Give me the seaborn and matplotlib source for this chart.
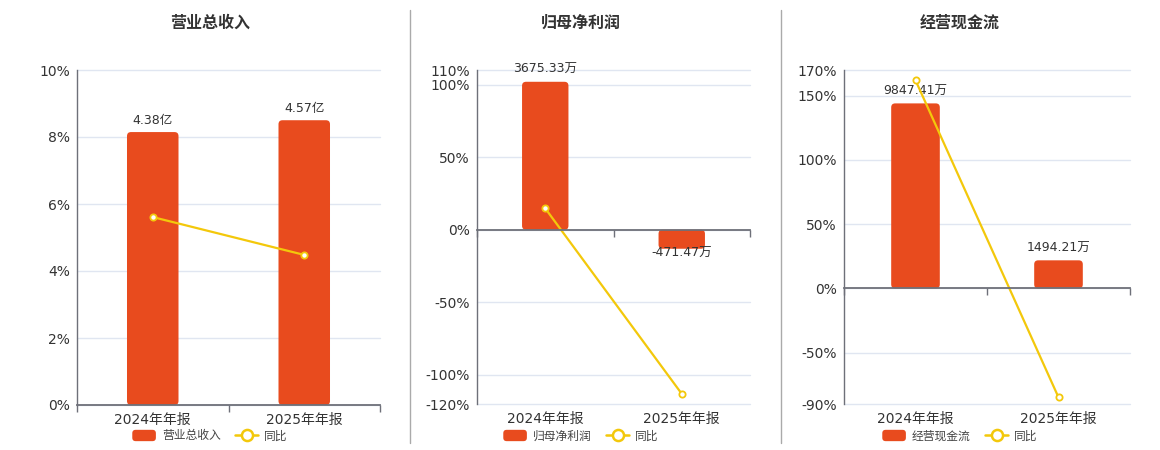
import numpy as np
import pandas as pd
import matplotlib
matplotlib.use("Agg")
import matplotlib.pyplot as plt
import seaborn as sns
from matplotlib.patches import FancyBboxPatch, Patch
from matplotlib.lines import Line2D
from matplotlib.legend_handler import HandlerPatch
from matplotlib.ticker import FixedLocator, NullFormatter

# ---------------- data ----------------
periods = ["2024年年报", "2025年年报"]
titles = ["营业总收入", "归母净利润", "经营现金流"]

revenue = [4.38, 4.57]            # 亿
revenue_yoy = [5.61, 4.48]        # %
revenue_labels = ["4.38亿", "4.57亿"]

net_profit = [3675.33, -471.47]   # 万
net_profit_yoy = [14.7, -113.0]
net_profit_labels = ["3675.33万", "-471.47万"]

cash_flow = [9847.41, 1494.21]    # 万
cash_flow_yoy = [162.0, -84.8]
cash_flow_labels = ["9847.41万", "1494.21万"]

revenue_ticks = [0, 2, 4, 6, 8, 10]
net_profit_ticks = [-120, -100, -50, 0, 50, 100, 110]
cash_flow_ticks = [-90, -50, 0, 50, 100, 150, 170]

# ---------------- style ----------------
sns.set_style("white")
plt.rcParams["font.family"] = ["DejaVu Sans", "Noto Sans CJK SC"]
plt.rcParams["axes.unicode_minus"] = False

BAR = "#E84B1E"
LINE = "#F3C80B"
GRID = "#E0E6F1"
AXIS = "#6E7079"
TXT = "#333333"

W, H = 1160, 450
fig = plt.figure(figsize=(W / 100, H / 100), dpi=100)


class HandlerRound(HandlerPatch):
    def create_artists(self, legend, orig_handle, xdescent, ydescent, width, height,
                       fontsize, trans):
        p = FancyBboxPatch((-xdescent, -ydescent), width, height,
                           boxstyle=f"round,pad=0,rounding_size={height * 0.3}",
                           facecolor=orig_handle.get_facecolor(), edgecolor="none",
                           transform=trans)
        return [p]


panels = [
    dict(px=(77, 380, 70, 405), cx=210, bars=revenue, yoy=revenue_yoy, labels=revenue_labels,
         ticks=revenue_ticks, barlim=(0, 5.376), name=titles[0]),
    dict(px=(477, 750, 70, 404), cx=581, bars=net_profit, yoy=net_profit_yoy, labels=net_profit_labels,
         ticks=net_profit_ticks, barlim=(-4328, 3968), name=titles[1]),
    dict(px=(844, 1130, 70, 404), cx=960, bars=cash_flow, yoy=cash_flow_yoy, labels=cash_flow_labels,
         ticks=cash_flow_ticks, barlim=(-6154, 11625), name=titles[2]),
]

for p in panels:
    l, r, t, b = p["px"]
    ax = fig.add_axes([l / W, 1 - b / H, (r - l) / W, (b - t) / H])
    ax2 = ax.twinx()   # bars
    ax3 = ax.twinx()   # yoy line

    df = pd.DataFrame({"period": periods, "value": p["bars"], "yoy": p["yoy"]})

    sns.barplot(data=df, x="period", y="value", ax=ax2, color=BAR, width=0.34,
                saturation=1, errorbar=None, linewidth=0)
    sns.pointplot(data=df, x="period", y="yoy", ax=ax3, color=LINE, errorbar=None,
                  markers="o", markersize=4.5, markerfacecolor="white",
                  markeredgewidth=1.3, linewidth=1.6)

    ylo, yhi = p["ticks"][0], p["ticks"][-1]
    ax.set_ylim(ylo, yhi)
    ax3.set_ylim(ylo, yhi)
    ax2.set_ylim(*p["barlim"])
    ax.set_xlim(-0.5, 1.5)

    # grid + left axis on base axes
    ax.set_yticks(p["ticks"])
    ax.set_yticklabels([f"{v}%" for v in p["ticks"]])
    ax.yaxis.grid(True, color=GRID, linewidth=1, clip_on=False)
    ax.xaxis.grid(False)
    ax.tick_params(axis="y", length=0, pad=5, labelsize=10, labelcolor=TXT)
    for s in ["top", "right", "bottom"]:
        ax.spines[s].set_visible(False)
    ax.spines["left"].set_color(AXIS)
    ax.spines["left"].set_linewidth(1)

    ax.set_xticks([0, 1])
    ax.set_xticklabels(periods)
    ax.tick_params(axis="x", which="both", length=0, pad=6, labelsize=10, labelcolor=TXT)
    ax.set_xlabel("")
    ax.set_ylabel("")

    # hide bar axes decorations
    ax2.set_yticks([])
    ax2.set_ylabel("")
    ax2.set_xlabel("")
    for s in ax2.spines.values():
        s.set_visible(False)

    # line axes: zero axis line with boundary ticks (category separators)
    ax3.xaxis.set_visible(True)
    ax3.set_yticks([])
    ax3.set_ylabel("")
    ax3.set_xlabel("")
    for s in ["top", "right", "left"]:
        ax3.spines[s].set_visible(False)
    ax3.spines["bottom"].set_position(("data", 0))
    ax3.spines["bottom"].set_color(AXIS)
    ax3.spines["bottom"].set_linewidth(1.3)
    ax3.xaxis.set_minor_locator(FixedLocator([-0.5, 0.5, 1.5]))
    ax3.xaxis.set_minor_formatter(NullFormatter())
    ax3.tick_params(axis="x", which="major", bottom=True, length=0, labelbottom=False)
    ax3.tick_params(axis="x", which="minor", bottom=True, length=5, direction="out",
                    color=AXIS, width=1, labelbottom=False)
    ax.tick_params(axis="x", which="minor", length=0)
    ax.set_xlim(-0.5, 1.5)

    # bar labels + rounded bars
    w_px, h_px = (r - l), (b - t)
    xupp = 2.0 / w_px
    yupp = (p["barlim"][1] - p["barlim"][0]) / h_px
    rad = 4 * xupp
    for patch, lab, val in zip(list(ax2.patches), p["labels"], p["bars"]):
        x0, y0 = patch.get_x(), patch.get_y()
        bw, bh = patch.get_width(), patch.get_height()
        ylow = min(y0, y0 + bh)
        hh = abs(bh)
        patch.remove()
        fb = FancyBboxPatch((x0, ylow), bw, hh,
                            boxstyle=f"round,pad=0,rounding_size={rad}",
                            mutation_aspect=yupp / xupp,
                            facecolor=BAR, edgecolor="none")
        ax2.add_patch(fb)
        cx = x0 + bw / 2
        if val >= 0:
            ax2.annotate(lab, (cx, ylow + hh), xytext=(0, 4), textcoords="offset points",
                         ha="center", va="bottom", fontsize=9, color=TXT)
        else:
            ax2.annotate(lab, (cx, ylow), xytext=(0, -3), textcoords="offset points",
                         ha="center", va="center", fontsize=9, color=TXT)

    # title
    fig.text(p["cx"] / W, 1 - 23 / H, p["name"], ha="center", va="center",
             fontsize=11.5, fontweight="bold", color=TXT)

    # legend
    handles = [
        Patch(facecolor=BAR, edgecolor="none", label=p["name"]),
        Line2D([0], [0], color=LINE, linewidth=1.8, marker="o", markersize=8,
               markerfacecolor="white", markeredgewidth=1.8, label="同比"),
    ]
    fig.legend(handles=handles, loc="center", bbox_to_anchor=(p["cx"] / W, 1 - 436 / H),
               ncol=2, frameon=False, fontsize=8.5, handlelength=2.0, handleheight=1.1,
               handletextpad=0.5, columnspacing=1.2, labelcolor="#444444",
               borderaxespad=0, borderpad=0, handler_map={Patch: HandlerRound()})

# separators
for xs in (410, 781):
    fig.add_artist(Line2D([xs / W, xs / W], [1 - 10 / H, 1 - 443 / H],
                          transform=fig.transFigure, color="#AAAAAA", linewidth=1))

fig.savefig("out.png", dpi=100, facecolor="white")
